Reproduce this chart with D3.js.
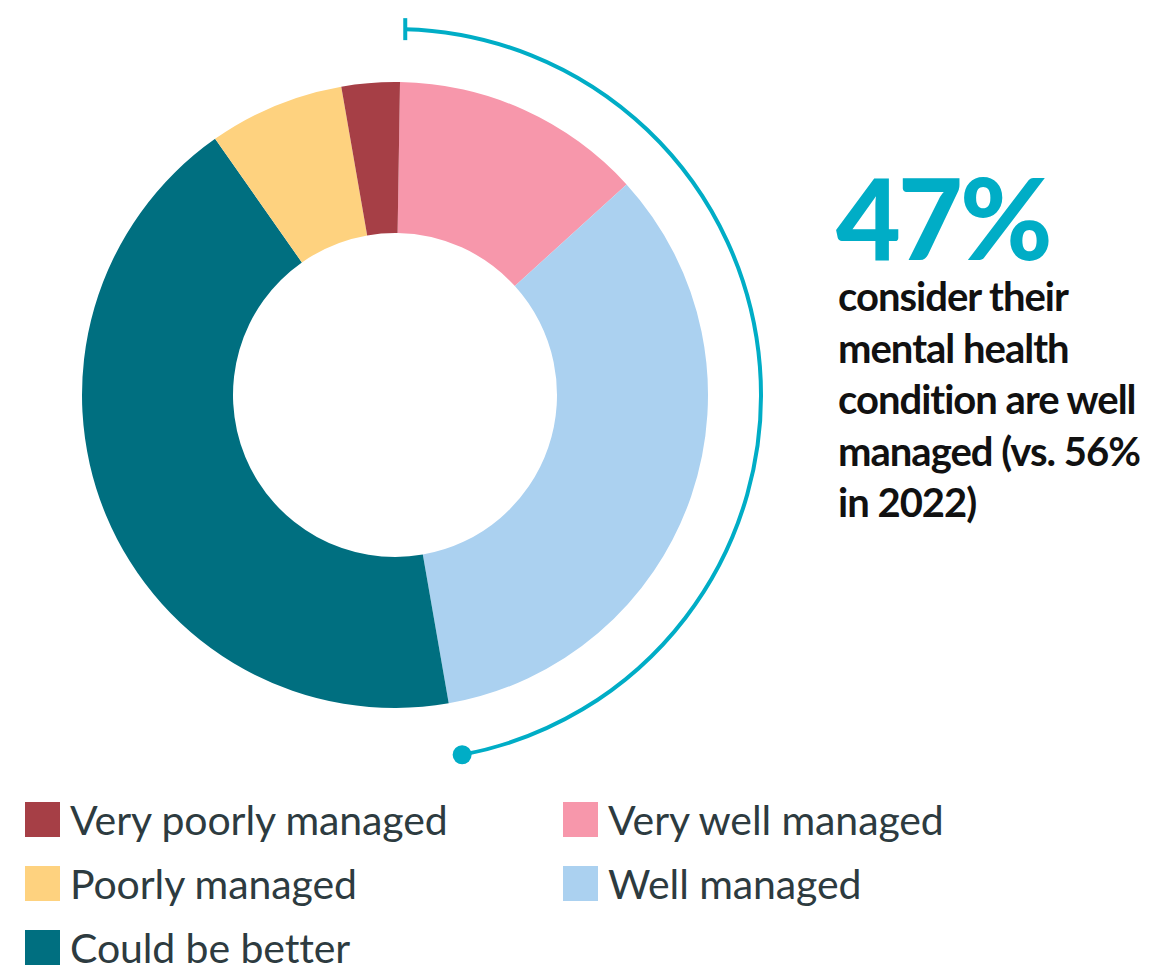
<!DOCTYPE html>
<html>
<head>
<meta charset="utf-8">
<script src="https://cdn.jsdelivr.net/npm/d3@7"></script>
<style>
  body { margin: 0; background: #fff; }
  svg text { font-family: "Source Sans Pro", Lato, "Noto Sans", sans-serif; }
</style>
</head>
<body>
<div id="chart"></div>
<script>
var categories = ["Very well managed", "Well managed", "Could be better", "Poorly managed", "Very poorly managed"];
var values = [13, 34, 43, 7, 3];
var colors = ["#f797ab", "#abd1f0", "#006f80", "#fed27f", "#a63f46"];

// legend order (two columns, filled down first column then second)
var legendLeft = ["Very poorly managed", "Poorly managed", "Could be better"];
var legendRight = ["Very well managed", "Well managed"];

// callout
var bigNumber = "47%";
var calloutLines = ["consider their", "mental health", "condition are well", "managed (vs. 56%", "in 2022)"];
var highlighted = ["Very well managed", "Well managed"];

var width = 1154, height = 965;
var cx = 395, cy = 395, outerR = 313, innerR = 162, bracketR = 366;
var accent = "#00adc6";

var svg = d3.select("#chart")
  .append("svg")
    .attr("width", width)
    .attr("height", height);

var color = d3.scaleOrdinal().domain(categories).range(colors);

var data = categories.map(function (c, i) { return {name: c, value: values[i]}; });

// the original is turned about a degree clockwise
var rot = 0.016;
var pie = d3.pie()
  .sort(null)
  .startAngle(rot)
  .endAngle(2 * Math.PI + rot)
  .value(function (d) { return d.value; });

var arcs = pie(data);

var arc = d3.arc()
  .innerRadius(innerR)
  .outerRadius(outerR);

var g = svg.append("g")
  .attr("transform", "translate(" + cx + "," + cy + ")");

g.selectAll("path.slice")
  .data(arcs)
  .enter()
  .append("path")
    .attr("class", "slice")
    .attr("d", arc)
    .attr("fill", function (d) { return color(d.data.name); });

// bracket around the "well managed" share
var hl = arcs.filter(function (d) { return highlighted.indexOf(d.data.name) >= 0; });
var a0 = d3.min(hl, function (d) { return d.startAngle; }) + 0.012;
var a1 = d3.max(hl, function (d) { return d.endAngle; }) - 0.012;

var bracket = d3.arc()
  .innerRadius(bracketR)
  .outerRadius(bracketR)
  .startAngle(a0)
  .endAngle(a1);

g.append("path")
  .attr("d", bracket())
  .attr("fill", "none")
  .attr("stroke", accent)
  .attr("stroke-width", 4);

function polar(r, a) { return [r * Math.sin(a), -r * Math.cos(a)]; }

var p0 = polar(bracketR, a0);
g.append("line")
  .attr("x1", p0[0]).attr("x2", p0[0])
  .attr("y1", p0[1] - 11).attr("y2", p0[1] + 11)
  .attr("stroke", accent)
  .attr("stroke-width", 4);

var p1 = polar(bracketR, a1);
g.append("circle")
  .attr("cx", p1[0]).attr("cy", p1[1])
  .attr("r", 9.5)
  .attr("fill", accent);

// callout text
var callout = svg.append("g").attr("transform", "translate(836,0)");

callout.append("text")
  .attr("x", 0).attr("y", 260)
  .attr("fill", accent)
  .attr("font-size", 112)
  .attr("font-weight", 900)
  .attr("letter-spacing", -3)
  .text(bigNumber);

callout.selectAll("text.line")
  .data(calloutLines)
  .enter()
  .append("text")
    .attr("class", "line")
    .attr("x", 2)
    .attr("y", function (d, i) { return 311 + i * 51.5; })
    .attr("fill", "#111")
    .attr("font-size", 40)
    .attr("font-weight", 700)
    .attr("letter-spacing", -1)
    .text(function (d) { return d; });

// legend
function legendColumn(items, x) {
  var row = svg.append("g").selectAll("g")
    .data(items)
    .enter()
    .append("g")
      .attr("transform", function (d, i) { return "translate(" + x + "," + (802 + i * 64) + ")"; });
  row.append("rect")
    .attr("width", 35).attr("height", 35)
    .attr("fill", function (d) { return color(d); });
  row.append("text")
    .attr("x", 45).attr("y", 33)
    .attr("fill", "#2d3b40")
    .attr("font-size", 41)
    .attr("letter-spacing", -0.1)
    .text(function (d) { return d; });
}
legendColumn(legendLeft, 25);
legendColumn(legendRight, 563);
</script>
</body>
</html>
